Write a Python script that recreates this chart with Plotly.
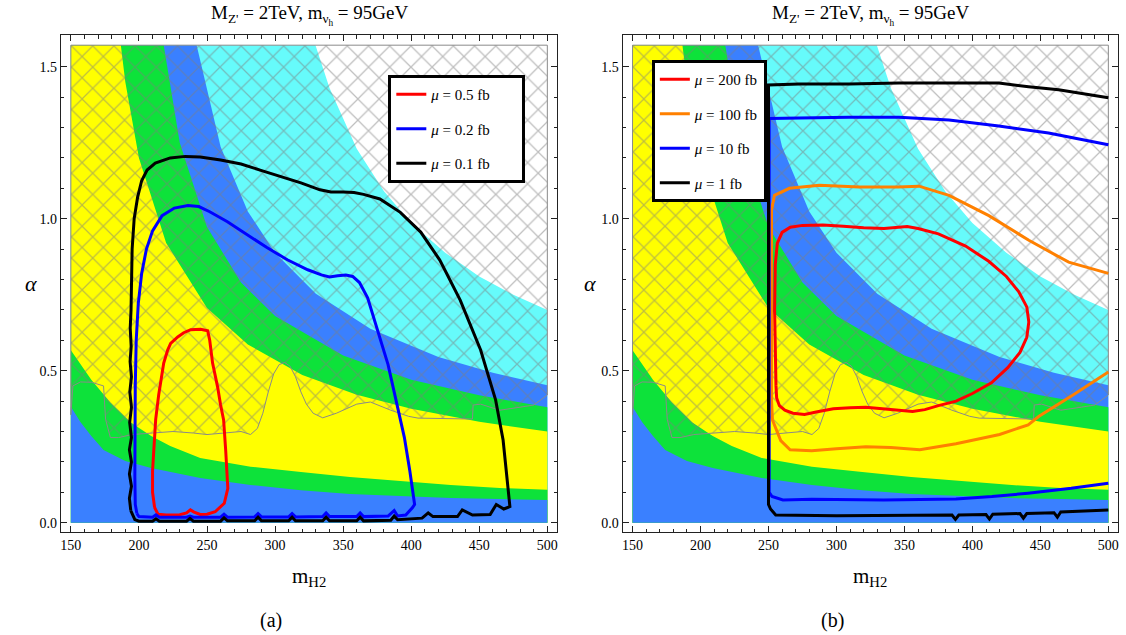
import plotly.graph_objects as go

TOP = 1.5708
M_MIN, M_MAX = 150, 500

# ---------------- band boundaries (m_H2, alpha) ----------------
b1_m = [150, 157, 165, 174, 190, 209, 245, 282, 319, 355, 392, 429, 465, 500]
b1_a = [0.381, 0.331, 0.285, 0.239, 0.203, 0.180, 0.147, 0.124, 0.107, 0.094, 0.088, 0.081, 0.078, 0.075]
b2_m = [150, 165, 179, 194, 209, 223, 245, 282, 319, 355, 392, 429, 465, 500]
b2_a = [0.567, 0.470, 0.395, 0.330, 0.285, 0.252, 0.213, 0.184, 0.167, 0.150, 0.137, 0.124, 0.114, 0.108]
b3_m = [186.7, 190, 200, 220, 250, 280, 320, 360, 400, 450, 500]
b3_a = [1.5708, 1.45, 1.20, 0.92, 0.706, 0.586, 0.486, 0.421, 0.375, 0.332, 0.30]
b4_m = [218.2, 230, 250, 275, 300, 350, 400, 450, 500]
b4_a = [1.5708, 1.25, 0.973, 0.79, 0.68, 0.55, 0.47, 0.419, 0.38]
b5_m = [242.4, 260, 280, 300, 330, 370, 420, 460, 500]
b5_a = [1.5708, 1.237, 1.024, 0.888, 0.753, 0.638, 0.545, 0.493, 0.452]
b6_m = [329.7, 340, 360, 380, 400, 425, 450, 475, 500]
b6_a = [1.5708, 1.43, 1.23, 1.09, 0.986, 0.888, 0.81, 0.75, 0.70]

# hatched (excluded) region: lower boundary
h_m = [150, 151.5, 157, 165, 174, 175.5, 179, 185, 195, 210, 225, 240, 250, 262, 275, 282, 287, 291, 295,
       299, 303, 307, 311, 315, 319, 323, 328, 335, 345, 360, 370, 385, 398, 405, 425, 445, 445.5, 451,
       465, 480, 490, 500]
h_a = [0.355, 0.45, 0.463, 0.462, 0.45, 0.34, 0.28, 0.28, 0.29, 0.295, 0.30, 0.295, 0.29, 0.295, 0.30,
       0.29, 0.31, 0.36, 0.43, 0.49, 0.52, 0.527, 0.515, 0.48, 0.43, 0.39, 0.36, 0.345, 0.36, 0.39,
       0.397, 0.37, 0.35, 0.344, 0.342, 0.341, 0.387, 0.39, 0.37, 0.38, 0.387, 0.42]

# ---------------- panel (a) contours ----------------
a_red_m = [211.5, 210.0, 210.0, 211.0, 212.3, 214.5, 216.0, 218.2, 221.1, 223.3, 228.5, 232.9, 238.0, 245.3,
           250.5, 252.0, 254.1, 257.8, 260.0, 262.2, 263.7, 264.8, 265.3, 262.7, 256.0, 250.0, 245.0, 240.5,
           237.8, 235.0, 230.0, 220.0, 214.0, 211.5]
a_red_a = [0.05, 0.10, 0.17, 0.24, 0.34, 0.42, 0.47, 0.525, 0.568, 0.59, 0.611, 0.625, 0.635, 0.636,
           0.631, 0.60, 0.525, 0.446, 0.387, 0.338, 0.24, 0.17, 0.113, 0.064, 0.036, 0.028, 0.027, 0.035,
           0.042, 0.032, 0.026, 0.025, 0.028, 0.05]

a_blue_m = [198.5, 197.3, 197.0, 197.0, 197.3, 198.0, 199.5, 202.0, 205.5, 210.0, 217.0, 226.0, 236.0, 244.0,
            252.0, 265.0, 280.0, 294.0, 309.0, 324.0, 334.0, 340.0, 346.0, 352.0, 357.0, 362.0, 368.0, 375.0,
            383.0, 389.0, 395.0, 399.0, 401.5, 402.5, 401.0, 396.0, 390.0, 387.5, 383.0, 365.0, 362.5, 360.0,
            340.0, 337.5, 335.0, 315.0, 312.5, 310.0, 290.0, 287.5, 285.0, 265.0, 262.5, 260.0, 240.0, 237.5,
            235.0, 215.0, 212.5, 210.0, 200.0, 198.5]
a_blue_a = [0.03, 0.06, 0.15, 0.30, 0.45, 0.60, 0.72, 0.82, 0.90, 0.96, 1.01, 1.035, 1.043, 1.04,
            1.023, 0.99, 0.947, 0.905, 0.865, 0.832, 0.815, 0.808, 0.812, 0.815, 0.81, 0.79, 0.74, 0.64,
            0.52, 0.40, 0.28, 0.17, 0.10, 0.06, 0.05, 0.025, 0.022, 0.04, 0.022, 0.02, 0.032, 0.02,
            0.02, 0.032, 0.02, 0.019, 0.03, 0.019, 0.019, 0.03, 0.019, 0.018, 0.028, 0.018, 0.018, 0.022,
            0.018, 0.018, 0.026, 0.018, 0.02, 0.03]

a_black_m = [194, 193, 194.5, 193, 194.5, 193, 194.5, 193.2, 194.5, 193.3, 194.5, 193.5, 194.3, 193.6, 194.2,
             194.4, 195, 196.5, 199, 202, 206, 212, 223, 234, 245, 260, 275, 289, 304, 319, 333, 341, 350,
             358, 365, 377, 392, 407, 421, 436, 451, 462, 467.5, 470.5, 471.5, 472.5, 468, 462.5, 458, 445,
             437.5, 434, 416, 412.5, 408, 390, 387.5, 385, 365, 362.5, 360, 340, 337.5, 335, 315, 312.5,
             310, 290, 287.5, 285, 265, 262.5, 260, 240, 237.5, 235, 215, 212.5, 210, 200, 197, 194]
a_black_a = [0.04, 0.08, 0.12, 0.16, 0.20, 0.24, 0.28, 0.33, 0.38, 0.43, 0.48, 0.53, 0.58, 0.64, 0.70,
             0.80, 0.90, 1.0, 1.07, 1.125, 1.16, 1.183, 1.2, 1.205, 1.203, 1.193, 1.18, 1.16, 1.14, 1.118,
             1.095, 1.088, 1.088, 1.086, 1.08, 1.065, 1.021, 0.956, 0.864, 0.732, 0.568, 0.404, 0.272, 0.14,
             0.075, 0.053, 0.045, 0.06, 0.027, 0.025, 0.042, 0.02, 0.02, 0.032, 0.015, 0.01, 0.022, 0.008,
             0.006, 0.018, 0.006, 0.006, 0.018, 0.006, 0.006, 0.018, 0.006, 0.006, 0.018, 0.006, 0.006,
             0.016, 0.005, 0.005, 0.014, 0.005, 0.005, 0.013, 0.005, 0.005, 0.01, 0.04]

# ---------------- panel (b) contours ----------------
b_red_m = [255.5, 255.0, 254.5, 255.0, 256.5, 260, 266, 275, 290, 305, 320, 335, 345, 352, 360, 375, 395,
           412, 425, 434, 440, 441.5, 440, 435, 426, 414, 400, 388, 375, 365, 356, 345, 335, 321.6, 310,
           297.7, 286, 276.5, 268, 262, 258, 256, 255.5]
b_red_a = [0.45, 0.55, 0.70, 0.85, 0.92, 0.955, 0.972, 0.978, 0.979, 0.975, 0.97, 0.968, 0.972, 0.974,
           0.968, 0.95, 0.91, 0.86, 0.81, 0.76, 0.71, 0.66, 0.61, 0.56, 0.51, 0.46, 0.425, 0.40, 0.385,
           0.372, 0.366, 0.37, 0.376, 0.38, 0.378, 0.375, 0.365, 0.356, 0.36, 0.37, 0.385, 0.41, 0.45]

b_orange_m = [500, 470.8, 441.5, 412.1, 382.8, 360.7, 345.3, 316.7, 287.4, 265.4, 254.4, 252.2, 252.2,
              252.2, 252.9, 255.3, 259, 265.9, 281.8, 300, 321.6, 340, 361.3, 387.9, 420, 441, 449, 474, 500]
b_orange_a = [0.82, 0.857, 0.929, 1.01, 1.077, 1.107, 1.104, 1.104, 1.11, 1.10, 1.077, 1.028, 0.732,
              0.403, 0.338, 0.311, 0.27, 0.24, 0.237, 0.243, 0.25, 0.247, 0.24, 0.26, 0.29, 0.322, 0.35,
              0.42, 0.496]

b_blue_m = [500, 456, 419.4, 382.8, 346, 309.4, 272.7, 250.5, 250.5, 252.6, 260.6, 281.8, 334.8, 387.9,
            414.4, 440.9, 472.7, 500]
b_blue_a = [1.243, 1.282, 1.305, 1.325, 1.334, 1.334, 1.331, 1.33, 0.10, 0.086, 0.075, 0.077, 0.075,
            0.078, 0.086, 0.097, 0.113, 0.13]

b_black_m = [500, 463.4, 441.3, 419.4, 382.8, 346, 309.4, 272.7, 250, 250, 251.5, 255.3, 300, 350, 385,
             387.5, 390, 410, 412.5, 415, 435, 437.5, 440, 460, 462.5, 465, 480, 500]
b_black_a = [1.398, 1.424, 1.434, 1.446, 1.446, 1.446, 1.443, 1.443, 1.44, 0.06, 0.045, 0.025, 0.023,
             0.023, 0.025, 0.011, 0.025, 0.027, 0.012, 0.028, 0.03, 0.015, 0.03, 0.033, 0.018, 0.035,
             0.037, 0.042]

BLUE = "#3a80ff"
GREEN = "#0de23a"
YELLOW = "#ffff00"
CYAN = "#66fbfb"

SERIF = "Liberation Serif, DejaVu Serif, serif"

fig = go.Figure()


def below(ms, als):
    xs, ys = [], []
    if als[0] >= TOP - 1e-6:
        xs.append(M_MIN)
        ys.append(TOP)
    xs += list(ms)
    ys += list(als)
    xs += [M_MAX, M_MIN, xs[0]]
    ys += [0, 0, ys[0]]
    return xs, ys


bands = [(b6_m, b6_a, CYAN), (b5_m, b5_a, BLUE), (b4_m, b4_a, GREEN),
         (b3_m, b3_a, YELLOW), (b2_m, b2_a, GREEN), (b1_m, b1_a, BLUE)]

for xa, ya in [("x", "y"), ("x2", "y2")]:
    for ms, als, col in bands:
        xs, ys = below(ms, als)
        fig.add_trace(go.Scatter(x=xs, y=ys, mode="lines", fill="toself", fillcolor=col,
                                 line=dict(width=0, color=col), hoverinfo="skip",
                                 showlegend=False, xaxis=xa, yaxis=ya))
    hx = [M_MIN, M_MAX] + list(reversed(h_m)) + [M_MIN]
    hy = [TOP, TOP] + list(reversed(h_a)) + [TOP]
    fig.add_trace(go.Scatter(x=hx, y=hy, mode="lines", fill="toself",
                             fillcolor="rgba(0,0,0,0)",
                             fillpattern=dict(shape="x", fgcolor="#7d7d7d", bgcolor="rgba(0,0,0,0)",
                                              size=15, solidity=0.16),
                             line=dict(width=1, color="#8a8a8a"), hoverinfo="skip",
                             showlegend=False, xaxis=xa, yaxis=ya))

PAD = "&nbsp;" * 7
curves_a = [(a_red_m, a_red_a, "#ff0000", "<i>μ</i> = 0.5 fb" + PAD),
            (a_blue_m, a_blue_a, "#0000ff", "<i>μ</i> = 0.2 fb" + PAD),
            (a_black_m, a_black_a, "#000000", "<i>μ</i> = 0.1 fb" + PAD)]
for i, (ms, als, col, name) in enumerate(curves_a):
    fig.add_trace(go.Scatter(x=ms, y=als, mode="lines", line=dict(color=col, width=3),
                             name=name, legend="legend", legendgroup="a%d" % i,
                             xaxis="x", yaxis="y"))

curves_b = [(b_red_m, b_red_a, "#ff0000", "<i>μ</i> = 200 fb"),
            (b_orange_m, b_orange_a, "#ff8000", "<i>μ</i> = 100 fb"),
            (b_blue_m, b_blue_a, "#0000ff", "<i>μ</i> = 10 fb"),
            (b_black_m, b_black_a, "#000000", "<i>μ</i> = 1 fb")]
for i, (ms, als, col, name) in enumerate(curves_b):
    fig.add_trace(go.Scatter(x=ms, y=als, mode="lines", line=dict(color=col, width=3),
                             name=name, legend="legend2", legendgroup="b%d" % i,
                             xaxis="x2", yaxis="y2"))

xr = [142.67, 507.33]
yr = [-0.0316, 1.6033]
axis_common = dict(showline=True, linecolor="#222", linewidth=1.2, mirror="allticks",
                   ticks="inside", ticklen=6, tickcolor="#222", showgrid=False, zeroline=False,
                   tickfont=dict(family=SERIF, size=14, color="black"))
xax = dict(axis_common, range=xr, tickmode="linear", tick0=150, dtick=50,
           minor=dict(ticks="inside", dtick=10, tick0=150, ticklen=3.5, tickcolor="#222", showgrid=False))
yax = dict(axis_common, range=yr, tickmode="linear", tick0=0, dtick=0.5, tickformat=".1f",
           minor=dict(ticks="inside", dtick=0.1, tick0=0, ticklen=3.5, tickcolor="#222", showgrid=False))

legend_common = dict(bgcolor="white", bordercolor="black", borderwidth=3,
                     font=dict(family=SERIF, size=15, color="black"),
                     xanchor="left", yanchor="top", tracegroupgap=12, itemwidth=30)

fig.update_layout(
    width=1126, height=635,
    margin=dict(l=0, r=0, t=0, b=0),
    paper_bgcolor="white", plot_bgcolor="white",
    xaxis=dict(xax, domain=[60 / 1126, 557.3 / 1126], anchor="y"),
    yaxis=dict(yax, domain=[(635 - 532.3) / 635, (635 - 35.3) / 635], anchor="x"),
    xaxis2=dict(xax, domain=[622.7 / 1126, 1119.3 / 1126], anchor="y2"),
    yaxis2=dict(yax, domain=[(635 - 532.3) / 635, (635 - 35.3) / 635], anchor="x2"),
    legend=dict(legend_common, x=388 / 1126, y=(635 - 75) / 635),
    legend2=dict(legend_common, x=652 / 1126, y=(635 - 60) / 635),
    showlegend=True,
)

title_txt = "M<sub>Z'</sub> = 2TeV, m<sub>ν<sub>h</sub></sub> = 95GeV"
ann = []
for cx, lab in [(308.6, "(a)"), (871.0, "(b)")]:
    ann.append(dict(x=cx / 1126, y=(635 - 15) / 635, xref="paper", yref="paper", text=title_txt,
                    showarrow=False, font=dict(family=SERIF, size=19, color="black"),
                    xanchor="center", yanchor="middle"))
    ann.append(dict(x=cx / 1126, y=(635 - 577) / 635, xref="paper", yref="paper",
                    text="m<sub>H2</sub>", showarrow=False,
                    font=dict(family=SERIF, size=21, color="black"), xanchor="center", yanchor="middle"))
    ann.append(dict(x=(cx - 38) / 1126, y=(635 - 620) / 635, xref="paper", yref="paper",
                    text=lab, showarrow=False,
                    font=dict(family=SERIF, size=20, color="black"), xanchor="center", yanchor="middle"))
for ax_x in [30, 590]:
    ann.append(dict(x=ax_x / 1126, y=(635 - 283) / 635, xref="paper", yref="paper",
                    text="<i>α</i>", showarrow=False,
                    font=dict(family=SERIF, size=22, color="black"), xanchor="center", yanchor="middle"))
fig.update_layout(annotations=ann)

fig.write_html("out.html", config={"displayModeBar": False},
               post_script="document.body.style.margin='0px';")
